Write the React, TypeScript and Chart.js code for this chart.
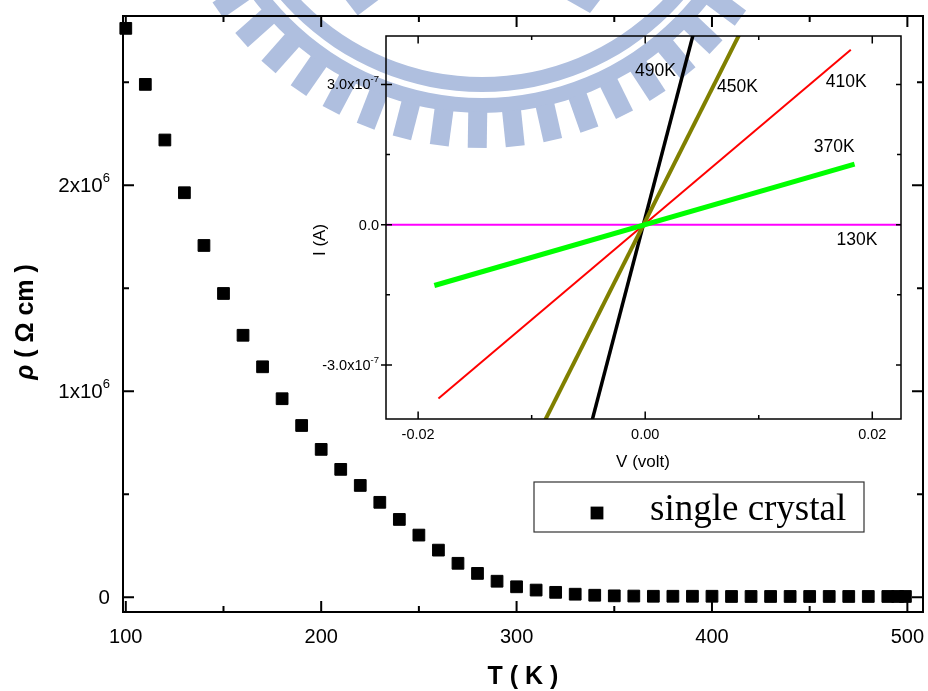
import { useEffect, useRef } from 'react';
import { Chart, registerables } from 'chart.js';

Chart.register(...registerables);

const WIDTH = 928;
const HEIGHT = 691;

// ---- Resistivity of the single crystal versus temperature ----
const temperature = [
  100, 110, 120, 130, 140, 150, 160, 170, 180, 190,
  200, 210, 220, 230, 240, 250, 260, 270, 280, 290,
  300, 310, 320, 330, 340, 350, 360, 370, 380, 390,
  400, 410, 420, 430, 440, 450, 460, 470, 480, 490,
  495, 499,
];
const resistivity = [
  2.762e6, 2.49e6, 2.22e6, 1.964e6, 1.708e6, 1.475e6, 1.272e6, 1.119e6, 0.964e6, 0.834e6,
  0.718e6, 0.621e6, 0.543e6, 0.461e6, 0.378e6, 0.302e6, 0.229e6, 0.165e6, 0.116e6, 0.078e6,
  0.051e6, 0.035e6, 0.024e6, 0.015e6, 0.01e6, 0.007e6, 0.006e6, 0.005e6, 0.005e6, 0.005e6,
  0.005e6, 0.004e6, 0.004e6, 0.004e6, 0.004e6, 0.004e6, 0.004e6, 0.004e6, 0.004e6, 0.004e6,
  0.004e6, 0.004e6,
];
const seriesName = 'single crystal';

const T_MAJOR = [100, 200, 300, 400, 500];
const T_MINOR = [150, 250, 350, 450];
const T_LABELS = ['100', '200', '300', '400', '500'];
const RHO_MAJOR = [0, 1e6, 2e6];
const RHO_MINOR = [0.5e6, 1.5e6, 2.5e6];
const RHO_LABELS = [['0', ''], ['1x10', '6'], ['2x10', '6']];

// ---- I–V sweeps at several temperatures (inset) ----
const ivNames = ['370K', '450K', '490K', '410K', '130K'];
const iv370V = [-0.01857, 0.01844];
const iv370I = [-1.302e-7, 1.296e-7];
const iv450V = [-0.0185, 0.0185];
const iv450I = [-8.85e-7, 8.99e-7];
const iv490V = [-0.0185, 0.0185];
const iv490I = [-1.7e-6, 1.73e-6];
const iv410V = [-0.01821, 0.01811];
const iv410I = [-3.72e-7, 3.74e-7];
const iv130V = [-0.023, 0.023];
const iv130I = [0, 0];

// where each curve's name sits, in (V, I)
const nameAtV = [0.01664, 0.00813, 0.00091, 0.01771, 0.01865];
const nameAtI = [1.663e-7, 2.949e-7, 3.274e-7, 3.056e-7, -0.336e-7];

const V_MAJOR = [-0.02, 0, 0.02];
const V_MINOR = [-0.01, 0.01];
const V_LABELS = ['-0.02', '0.00', '0.02'];
const I_MAJOR = [-3e-7, 0, 3e-7];
const I_MINOR = [-1.5e-7, 1.5e-7];
const I_LABELS = [['-3.0x10', '-7'], ['0.0', ''], ['3.0x10', '-7']];

const SANS = '"Liberation Sans", Arial, sans-serif';
const SERIF = '"Liberation Serif", "Times New Roman", serif';

const ivStyles = [
  { color: '#00ff00', width: 5 },
  { color: '#808000', width: 4 },
  { color: '#000000', width: 3.5 },
  { color: '#ff0000', width: 2 },
  { color: '#ff00ff', width: 2 },
];
const ivSeries = [
  [iv370V, iv370I],
  [iv450V, iv450I],
  [iv490V, iv490I],
  [iv410V, iv410I],
  [iv130V, iv130I],
];

function drawSci(
  ctx: CanvasRenderingContext2D,
  base: string,
  exp: string,
  right: number,
  cy: number,
  baseFont: string,
  supFont: string,
  raise: number,
) {
  ctx.font = supFont;
  const we = exp ? ctx.measureText(exp).width : 0;
  ctx.font = baseFont;
  const wb = ctx.measureText(base).width;
  ctx.textAlign = 'left';
  ctx.textBaseline = 'middle';
  const x0 = right - wb - we;
  ctx.fillText(base, x0, cy);
  if (exp) {
    ctx.font = supFont;
    ctx.fillText(exp, x0 + wb, cy - raise);
  }
}

// University seal printed faintly behind the figure
const sealPlugin = {
  id: 'seal',
  beforeDraw(chart: any) {
    const ctx: CanvasRenderingContext2D = chart.ctx;
    const cx = 482;
    const cy = -174;
    ctx.save();
    ctx.fillStyle = '#afbfdf';
    const ring = (r0: number, r1: number) => {
      ctx.beginPath();
      ctx.arc(cx, cy, r1, 0, Math.PI * 2);
      ctx.arc(cx, cy, r0, Math.PI * 2, 0, true);
      ctx.fill();
    };
    ring(251, 266);
    ring(272, 287);
    for (let k = -11; k <= 11; k++) {
      const a = ((90.85 + k * 6.78) * Math.PI) / 180;
      ctx.save();
      ctx.translate(cx, cy);
      ctx.rotate(a - Math.PI / 2);
      ctx.fillRect(-9.5, 286, 19, 36);
      ctx.restore();
    }
    ctx.beginPath();
    ctx.moveTo(345.7, 0);
    ctx.lineTo(378.4, 0);
    ctx.lineTo(357.7, 15.5);
    ctx.closePath();
    ctx.fill();
    ctx.beginPath();
    ctx.moveTo(567, 0);
    ctx.lineTo(600, 0);
    ctx.lineTo(590, 13);
    ctx.closePath();
    ctx.fill();
    ctx.restore();
  },
};

const mainFramePlugin = {
  id: 'mainFrame',
  afterDraw(chart: any) {
    const ctx: CanvasRenderingContext2D = chart.ctx;
    const a = chart.chartArea;
    const xs = chart.scales.x;
    const ys = chart.scales.y;
    ctx.save();
    ctx.strokeStyle = '#000';
    ctx.fillStyle = '#000';
    ctx.lineWidth = 2;
    ctx.strokeRect(a.left, a.top, a.right - a.left, a.bottom - a.top);

    ctx.beginPath();
    const xTick = (v: number, len: number) => {
      const p = xs.getPixelForValue(v);
      ctx.moveTo(p, a.bottom);
      ctx.lineTo(p, a.bottom - len);
      ctx.moveTo(p, a.top);
      ctx.lineTo(p, a.top + len);
    };
    const yTick = (v: number, len: number) => {
      const p = ys.getPixelForValue(v);
      ctx.moveTo(a.left, p);
      ctx.lineTo(a.left + len, p);
      ctx.moveTo(a.right, p);
      ctx.lineTo(a.right - len, p);
    };
    T_MAJOR.forEach((v) => xTick(v, 11));
    T_MINOR.forEach((v) => xTick(v, 6));
    RHO_MAJOR.forEach((v) => yTick(v, 11));
    RHO_MINOR.forEach((v) => yTick(v, 6));
    ctx.stroke();

    // tick labels
    ctx.font = `20px ${SANS}`;
    ctx.textAlign = 'center';
    ctx.textBaseline = 'middle';
    T_MAJOR.forEach((v, i) => {
      ctx.fillText(T_LABELS[i], xs.getPixelForValue(v), a.bottom + 25);
    });
    RHO_MAJOR.forEach((v, i) => {
      const [b, e] = RHO_LABELS[i];
      drawSci(ctx, b, e, a.left - 13, ys.getPixelForValue(v) + 1, `20.5px ${SANS}`, `13px ${SANS}`, 8);
    });

    // axis titles
    ctx.font = `bold 25px ${SANS}`;
    ctx.textAlign = 'center';
    ctx.fillText('T ( K )', (a.left + a.right) / 2, 677);

    ctx.save();
    ctx.translate(26, 322);
    ctx.rotate(-Math.PI / 2);
    const rho = 'ρ';
    const rest = ' ( Ω cm )';
    ctx.font = `italic bold 25px ${SANS}`;
    const w1 = ctx.measureText(rho).width;
    ctx.font = `bold 25px ${SANS}`;
    const w2 = ctx.measureText(rest).width;
    ctx.textAlign = 'left';
    ctx.font = `italic bold 25px ${SANS}`;
    ctx.fillText(rho, -(w1 + w2) / 2, 0);
    ctx.font = `bold 25px ${SANS}`;
    ctx.fillText(rest, -(w1 + w2) / 2 + w1, 0);
    ctx.restore();

    // legend
    ctx.lineWidth = 1.2;
    ctx.strokeStyle = '#333';
    ctx.strokeRect(534, 482, 330, 50);
    ctx.fillStyle = '#000';
    ctx.fillRect(597 - 6.4, 513 - 6.4, 12.8, 12.8);
    ctx.font = `37px ${SERIF}`;
    ctx.textAlign = 'left';
    ctx.textBaseline = 'alphabetic';
    ctx.fillText(chart.data.datasets[0].label, 650, 520);
    ctx.restore();
  },
};

const insetFramePlugin = {
  id: 'insetFrame',
  afterDraw(chart: any) {
    const ctx: CanvasRenderingContext2D = chart.ctx;
    const a = chart.chartArea;
    const xs = chart.scales.x;
    const ys = chart.scales.y;
    ctx.save();
    ctx.strokeStyle = '#000';
    ctx.fillStyle = '#000';
    ctx.lineWidth = 1.5;
    ctx.strokeRect(a.left, a.top, a.right - a.left, a.bottom - a.top);

    ctx.beginPath();
    const xTick = (v: number, len: number) => {
      const p = xs.getPixelForValue(v);
      ctx.moveTo(p, a.bottom);
      ctx.lineTo(p, a.bottom - len);
      ctx.moveTo(p, a.top);
      ctx.lineTo(p, a.top + len);
    };
    V_MAJOR.forEach((v) => xTick(v, 7.5));
    V_MINOR.forEach((v) => xTick(v, 4));
    I_MAJOR.forEach((v) => {
      const p = ys.getPixelForValue(v);
      ctx.moveTo(a.left - 5, p);
      ctx.lineTo(a.left + 6, p);
      ctx.moveTo(a.right, p);
      ctx.lineTo(a.right - 5, p);
    });
    I_MINOR.forEach((v) => {
      const p = ys.getPixelForValue(v);
      ctx.moveTo(a.left, p);
      ctx.lineTo(a.left + 4, p);
      ctx.moveTo(a.right, p);
      ctx.lineTo(a.right - 4, p);
    });
    ctx.stroke();

    ctx.font = `14.5px ${SANS}`;
    ctx.textAlign = 'center';
    ctx.textBaseline = 'middle';
    V_MAJOR.forEach((v, i) => {
      ctx.fillText(V_LABELS[i], xs.getPixelForValue(v), a.bottom + 16);
    });
    I_MAJOR.forEach((v, i) => {
      const [b, e] = I_LABELS[i];
      drawSci(ctx, b, e, a.left - 7, ys.getPixelForValue(v) + 1, `14.5px ${SANS}`, `9.5px ${SANS}`, 6);
    });

    ctx.font = `17px ${SANS}`;
    ctx.textAlign = 'center';
    ctx.fillText('V (volt)', 643, 462);
    ctx.save();
    ctx.translate(320, 240);
    ctx.rotate(-Math.PI / 2);
    ctx.fillText('I (A)', 0, 0);
    ctx.restore();

    // curve names
    ctx.font = `17.5px ${SANS}`;
    ivNames.forEach((n, i) => {
      ctx.fillText(n, xs.getPixelForValue(nameAtV[i]), ys.getPixelForValue(nameAtI[i]));
    });
    ctx.restore();
  },
};

export default function App() {
  const mainRef = useRef<HTMLCanvasElement | null>(null);
  const insetRef = useRef<HTMLCanvasElement | null>(null);

  useEffect(() => {
    if (!mainRef.current || !insetRef.current) return;

    const main = new Chart(mainRef.current, {
      type: 'scatter',
      data: {
        datasets: [
          {
            label: seriesName,
            data: temperature.map((t, i) => ({ x: t, y: resistivity[i] })),
            pointStyle: 'rect',
            pointRadius: 8.3,
            pointHoverRadius: 8.3,
            backgroundColor: '#000',
            borderColor: '#000',
            borderWidth: 1,
            clip: false,
          },
        ],
      },
      options: {
        responsive: false,
        animation: false,
        events: [],
        layout: { padding: { left: 123, right: 5, top: 16, bottom: 79 }, autoPadding: false },
        scales: {
          x: { type: 'linear', display: false, min: 98.57, max: 508 },
          y: { type: 'linear', display: false, min: -0.0714e6, max: 2.822e6 },
        },
        plugins: { legend: { display: false }, tooltip: { enabled: false } },
      },
      plugins: [sealPlugin, mainFramePlugin],
    } as any);

    const inset = new Chart(insetRef.current, {
      type: 'scatter',
      data: {
        datasets: ivSeries.map(([vs, is], i) => ({
          label: ivNames[i],
          data: vs.map((v, j) => ({ x: v, y: is[j] })),
          showLine: true,
          pointRadius: 0,
          pointHoverRadius: 0,
          borderColor: ivStyles[i].color,
          backgroundColor: ivStyles[i].color,
          borderWidth: ivStyles[i].width,
          order: i,
        })),
      },
      options: {
        responsive: false,
        animation: false,
        events: [],
        layout: { padding: { left: 386, right: 27, top: 36, bottom: 272 }, autoPadding: false },
        scales: {
          x: { type: 'linear', display: false, min: -0.02283, max: 0.02253 },
          y: { type: 'linear', display: false, min: -4.157e-7, max: 4.035e-7 },
        },
        plugins: { legend: { display: false }, tooltip: { enabled: false } },
      },
      plugins: [insetFramePlugin],
    } as any);

    return () => {
      main.destroy();
      inset.destroy();
    };
  }, []);

  return (
    <div
      style={{
        position: 'fixed',
        left: 0,
        top: 0,
        width: WIDTH,
        height: HEIGHT,
        background: '#fff',
        overflow: 'hidden',
      }}
    >
      <canvas ref={mainRef} width={WIDTH} height={HEIGHT} style={{ position: 'absolute', left: 0, top: 0 }} />
      <canvas ref={insetRef} width={WIDTH} height={HEIGHT} style={{ position: 'absolute', left: 0, top: 0 }} />
    </div>
  );
}
